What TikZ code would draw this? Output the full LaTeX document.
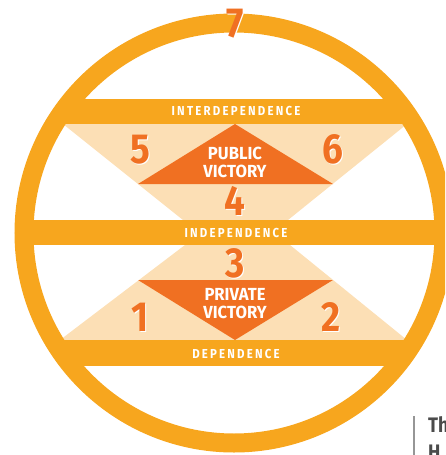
\documentclass[tikz,border=0pt]{standalone}
\usepackage{fontspec}
\setmainfont{Fira Sans}[FakeStretch=0.88]
\usepackage{color}
\definecolor{myring}{RGB}{247,166,30}
\definecolor{mydarkorange}{RGB}{240,112,34}
\definecolor{mylightorange}{RGB}{252,223,181}
\definecolor{mydarkgray}{RGB}{75,75,75}
\definecolor{mylightgray}{RGB}{150,150,150}
\newcommand{\shadownum}[1]{\rlap{\hspace{1.2pt}\raisebox{-1.2pt}{\color{white}#1}}#1}
\newcommand{\ringradius}{210}
\newcommand{\ringwidth}{19}
\tikzset{
    band/.style={fill=myring},
    bandtext/.style={anchor=base, text=white, inner sep=0pt,
        font=\bfseries\fontsize{13}{14}\selectfont\addfontfeature{LetterSpace=17}},
    victory/.style={anchor=base, text=white, inner sep=0pt, align=center,
        font=\bfseries\fontsize{17.5}{18}\selectfont\addfontfeature{FakeStretch=0.95}},
    number/.style={anchor=base, text=mydarkorange, inner sep=0pt,
        font=\bfseries\fontsize{42}{42}\selectfont},
    half/.style={fill=mylightorange},
    victorytri/.style={fill=mydarkorange}
}

\begin{document}
\begin{tikzpicture}[x=1pt, y=-1pt]
            \useasboundingbox (0,0) rectangle (445,455);
            \clip (0,0) rectangle (445,455);
            \coordinate (C) at (234,233);

            \begin{scope}
                \clip (C) circle (\ringradius);
                \fill[half] (63,124) -- (407,124) -- (288,220) -- (183,220) -- cycle;
                \fill[half] (185,245) -- (290,245) -- (407,340) -- (60,340) -- cycle;
                \fill[band] (0,99) rectangle (445,124);
                \fill[band] (0,220) rectangle (445,245);
                \fill[band] (0,340) rectangle (445,366);
            \end{scope}
            \draw[myring, line width=\ringwidth] (C) circle (\ringradius);

            \fill[victorytri] (138,184) -- (235,124) -- (333,184) -- cycle;
            \fill[victorytri] (138,280) -- (333,280) -- (235,340) -- cycle;

            \node[bandtext] (inter) at (236,115.5) {INTERDEPENDENCE};
            \node[bandtext] (indep) at (236,237) {INDEPENDENCE};
            \node[bandtext] (dep) at (236,358) {DEPENDENCE};

            \node[victory] (public) at (235,177) {PUBLIC\\VICTORY};
            \node[victory] (private) at (235,318) {PRIVATE\\VICTORY};

            \node[number] (n7) at (235,37) {\shadownum{7}};
            \node[number] (n5) at (140,163) {\shadownum{5}};
            \node[number] (n6) at (333,163) {\shadownum{6}};
            \node[number] (n4) at (235,215) {\shadownum{4}};
            \node[number] (n3) at (235,277) {\shadownum{3}};
            \node[number] (n1) at (140,331) {\shadownum{1}};
            \node[number] (n2) at (331,331) {\shadownum{2}};

            \draw[mylightgray, line width=1.2] (414,416) -- (414,455);
            \node[anchor=base west, inner sep=0pt, align=left, text=mydarkgray,
                font=\bfseries\fontsize{21}{27}\selectfont] (caption) at (428,459) {Th\\H};
        \end{tikzpicture}
\end{document}
